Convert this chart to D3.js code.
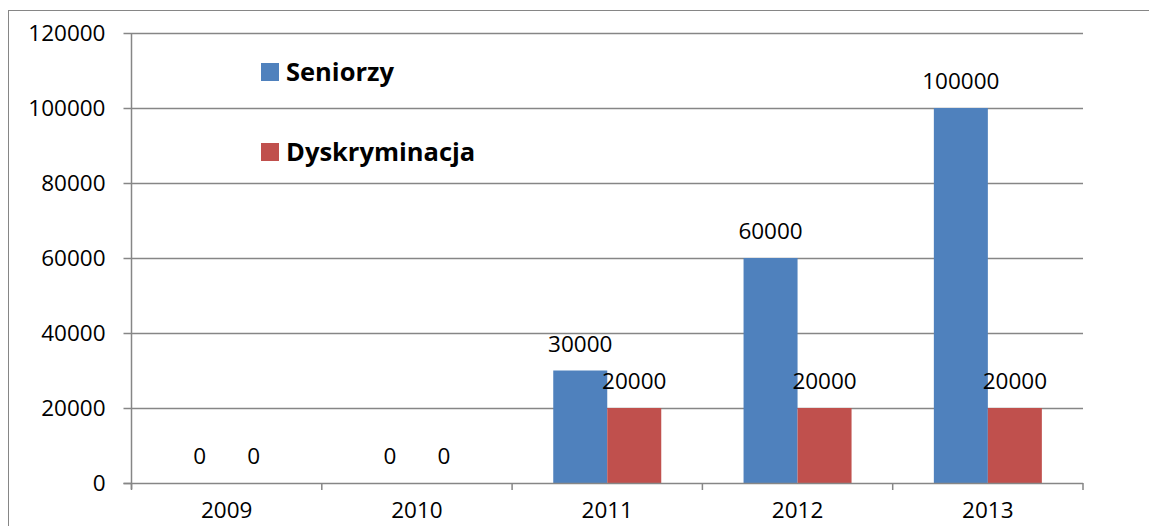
<!DOCTYPE html>
<html>
<head>
<meta charset="utf-8">
<script src="https://cdn.jsdelivr.net/npm/d3@7"></script>
<style>
  html, body { margin: 0; padding: 0; background: #fff; }
  svg { display: block; font-family: "Open Sans", Lato, sans-serif; }
</style>
</head>
<body>
<svg width="1149" height="526"></svg>
<script>
// Chart data
const years = ['2009', '2010', '2011', '2012', '2013'];
const seriesNames = ['Seniorzy', 'Dyskryminacja'];
const seniorzy = [0, 0, 30000, 60000, 100000];
const dyskryminacja = [0, 0, 20000, 20000, 20000];
const yTicks = [0, 20000, 40000, 60000, 80000, 100000, 120000];
const colors = ['#4F81BD', '#C0504D'];

const svg = d3.select('svg');
const margin = {top: 33, right: 66, bottom: 43, left: 131.5};
const width = 1149 - margin.left - margin.right;
const height = 526 - margin.top - margin.bottom;
const grey = '#868686';
const fontSize = 22.5;

// outer frame of the chart area
svg.append('rect')
  .attr('x', 8.5).attr('y', 10.5)
  .attr('width', 1160).attr('height', 540)
  .attr('fill', 'none').attr('stroke', grey).attr('stroke-width', 1);

const g = svg.append('g').attr('transform', `translate(${margin.left},${margin.top})`);

const x0 = d3.scaleBand().domain(years).range([0, width]).paddingInner(0).paddingOuter(0);
const x1 = d3.scaleBand().domain(seriesNames).range([0, x0.bandwidth()]).paddingInner(0).paddingOuter(0.762);
const y = d3.scaleLinear().domain([0, 120000]).range([height, 0]);

const rows = years.map((yr, i) => ({year: yr, values: [seniorzy[i], dyskryminacja[i]]}));

// gridlines
g.append('g')
  .selectAll('line')
  .data(yTicks.filter(t => t > 0)).enter()
  .append('line')
  .attr('x1', 0).attr('x2', width)
  .attr('y1', d => Math.round(y(d)) + 0.5).attr('y2', d => Math.round(y(d)) + 0.5)
  .attr('stroke', grey).attr('stroke-width', 1.5);

// y axis
const yAxis = g.append('g')
  .call(d3.axisLeft(y).tickValues(yTicks).tickSize(8).tickPadding(18).tickFormat(d3.format('d')));
yAxis.selectAll('line').attr('stroke', grey).attr('stroke-width', 1.5);
yAxis.select('.domain').remove();
yAxis.selectAll('text').attr('font-size', fontSize).attr('fill', '#000').attr('font-family', '"Open Sans", sans-serif');
g.append('line')
  .attr('x1', 0).attr('x2', 0).attr('y1', 0).attr('y2', height + 6)
  .attr('stroke', grey).attr('stroke-width', 1.5);

// bars
const groups = g.append('g')
  .selectAll('g')
  .data(rows).enter()
  .append('g')
  .attr('transform', d => `translate(${x0(d.year)},0)`);

groups.selectAll('rect')
  .data(d => d.values.map((v, i) => ({key: seriesNames[i], value: v, i}))).enter()
  .append('rect')
  .attr('x', d => x1(d.key))
  .attr('y', d => y(d.value))
  .attr('width', x1.bandwidth())
  .attr('height', d => height - y(d.value))
  .attr('fill', d => colors[d.i]);

groups.selectAll('text')
  .data(d => d.values.map((v, i) => ({key: seriesNames[i], value: v}))).enter()
  .append('text')
  .attr('x', d => x1(d.key) + x1.bandwidth() / 2)
  .attr('y', d => y(d.value) - 19)
  .attr('text-anchor', 'middle')
  .attr('font-size', fontSize)
  .text(d => d.value);

// x axis
const xAxis = g.append('g')
  .attr('transform', `translate(0,${height})`)
  .call(d3.axisBottom(x0).tickSize(0).tickPadding(19));
xAxis.select('.domain').remove();
xAxis.selectAll('text').attr('font-size', fontSize).attr('fill', '#000').attr('font-family', '"Open Sans", sans-serif');
g.append('line')
  .attr('x1', -8).attr('x2', width).attr('y1', height + 0.5).attr('y2', height + 0.5)
  .attr('stroke', grey).attr('stroke-width', 1.5);
g.append('g')
  .selectAll('line')
  .data(years.concat(['end'])).enter()
  .append('line')
  .attr('x1', d => d === 'end' ? width : x0(d))
  .attr('x2', d => d === 'end' ? width : x0(d))
  .attr('y1', height).attr('y2', height + 7)
  .attr('stroke', grey).attr('stroke-width', 1.5);

// legend
const legend = svg.append('g')
  .selectAll('g')
  .data(seriesNames).enter()
  .append('g')
  .attr('transform', (d, i) => `translate(261,${63 + i * 80})`);
legend.append('rect')
  .attr('width', 18).attr('height', 18)
  .attr('fill', (d, i) => colors[i]);
legend.append('text')
  .attr('x', 25).attr('y', 18)
  .attr('font-size', 25.5).attr('font-weight', 'bold')
  .attr('font-family', '"Open Sans", sans-serif')
  .text(d => d);
</script>
</body>
</html>
